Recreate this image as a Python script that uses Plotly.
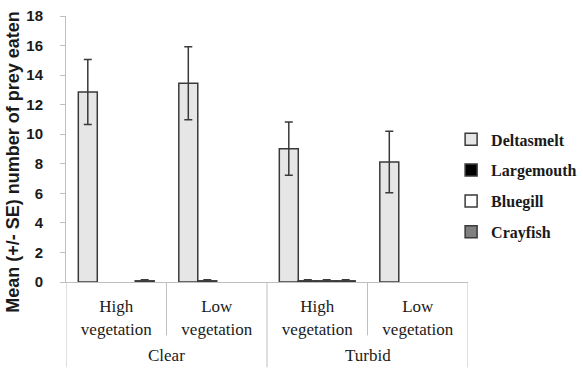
import plotly.graph_objects as go

x_pos = [0, 1, 2, 3]
inner_labels = ["High<br>vegetation", "Low<br>vegetation", "High<br>vegetation", "Low<br>vegetation"]
outer_labels = ["Clear", "Turbid"]
series_names = ["Deltasmelt", "Largemouth", "Bluegill", "Crayfish"]

deltasmelt = [12.85, 13.45, 9.02, 8.12]
deltasmelt_se = [2.2, 2.47, 1.8, 2.08]
largemouth = [0, 0.08, 0.08, 0]
largemouth_se = [0, 0.08, 0.08, 0]
bluegill = [0, 0, 0.08, 0]
bluegill_se = [0, 0, 0.08, 0]
crayfish = [0.08, 0, 0.08, 0]
crayfish_se = [0.08, 0, 0.08, 0]

y_ticks = [0, 2, 4, 6, 8, 10, 12, 14, 16, 18]

fills = ["#e6e6e6", "#000000", "#ffffff", "#808080"]
values = [deltasmelt, largemouth, bluegill, crayfish]
errors = [deltasmelt_se, largemouth_se, bluegill_se, crayfish_se]

SERIF = "Liberation Serif"
SANS = "Liberation Sans"
DARK = "#3a3a3a"
GRID = "#bfbfbf"
TEXT = "#1a1a1a"

fig = go.Figure()
for name, vals, se, col in zip(series_names, values, errors, fills):
    # bars with a zero mean are not drawn at all in the original
    shown = [v if v > 0 else None for v in vals]
    fig.add_trace(go.Bar(
        name=name, x=x_pos, y=shown,
        marker=dict(color=col, line=dict(color=DARK, width=1.5)),
        error_y=dict(type="data", array=se, visible=True, color=DARK,
                     thickness=1.5, width=4),
        legendgroup=name,
    ))

fig.update_layout(
    width=583, height=368,
    margin=dict(l=66, r=115, t=16, b=85.5, autoexpand=False),
    paper_bgcolor="white", plot_bgcolor="white",
    barmode="group", bargap=0.245, bargroupgap=0,
    font=dict(family=SERIF, color=TEXT),
    showlegend=True,
    legend=dict(x=0.958, xanchor="left", y=0.6, yanchor="top",
                font=dict(family=SERIF, size=16, color=TEXT, weight="bold"),
                tracegroupgap=7, bgcolor="rgba(0,0,0,0)"),
    xaxis=dict(
        range=[-0.5, 3.5], tickmode="array", tickvals=x_pos, ticktext=inner_labels,
        showline=True, linecolor=GRID, linewidth=1, ticks="", showgrid=False,
        zeroline=False, tickfont=dict(family=SERIF, size=17, color=TEXT),
        ticklabelstandoff=9, automargin=False,
    ),
    yaxis=dict(
        range=[0, 18], tickmode="array", tickvals=y_ticks,
        showline=True, linecolor=GRID, linewidth=1, ticks="outside", ticklen=5,
        tickcolor=GRID, showgrid=False, zeroline=False,
        tickfont=dict(family=SANS, size=15, color=TEXT, weight="bold"),
        ticklabelstandoff=14, automargin=False,
    ),
)

# y-axis title
fig.add_annotation(
    text="<b>Mean (+/- SE) number of prey eaten</b>", textangle=-90,
    xref="paper", yref="paper", x=-52.5 / 402, y=0.45, xanchor="center", yanchor="middle",
    showarrow=False, font=dict(family=SANS, size=18, color=TEXT),
)

# outer category labels
for i, lab in enumerate(outer_labels):
    fig.add_annotation(
        text=lab, xref="x", yref="paper", x=2 * i + 0.5, y=-73.5 / 266.5,
        xanchor="center", yanchor="middle", showarrow=False,
        font=dict(family=SERIF, size=17, color=TEXT),
    )

# category divider lines
for b in [-0.5, 1.5, 3.5]:
    fig.add_shape(type="line", xref="x", yref="paper", x0=b, x1=b, y0=0, y1=-85.5 / 266.5,
                  line=dict(color=GRID, width=1))
for b in [0.5, 2.5]:
    fig.add_shape(type="line", xref="x", yref="paper", x0=b, x1=b, y0=0, y1=-53.5 / 266.5,
                  line=dict(color=GRID, width=1))

fig.write_html("out.html")
